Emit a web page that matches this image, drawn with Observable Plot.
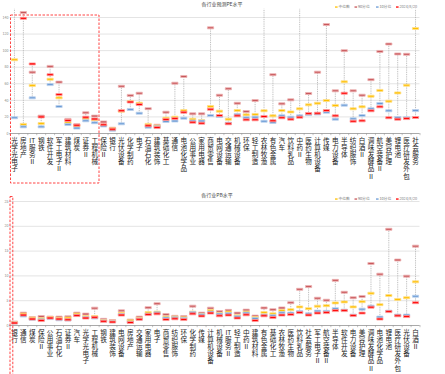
<!DOCTYPE html>
<html><head><meta charset="utf-8">
<script src="https://cdn.jsdelivr.net/npm/d3@7"></script>
<script src="https://cdn.jsdelivr.net/npm/@observablehq/plot@0.6"></script>
<style>
body{margin:0;background:#fff;}
#wrap{position:relative;width:445px;height:374px;overflow:hidden;}
#wrap svg{position:absolute;left:0;}
</style></head>
<body><div id="wrap"></div>
<script>
// ---------- Data: 各行业预测PE水平 ----------
const peCategories = ["光学光电子","房地产","IT服务Ⅱ","钢铁","软件开发","军工电子Ⅱ","建筑材料","煤炭","证券Ⅱ","工程机械","保险Ⅱ","银行","光伏设备","化学制药","电子","石油石化","建筑装饰","基础化工","通信","电池化学品","公用事业","家用电器","商贸零售","电网设备","交通运输","机械设备","环保","轻工制造","农林牧渔","有色金属","汽车","饮料乳品","中药Ⅱ","医药生物","计算机设备","传媒","电力设备","半导体","纺织服饰","白酒Ⅱ","调味发酵品Ⅱ","航空装备Ⅱ","美容护理","锂电池","医疗研发外包","社会服务"];
const peP90 = [220,146,74,21,81,62,17,10.5,25,21,14,6.4,57,46,48.6,30,10,25.7,60.7,68.8,23.7,23.7,127.5,46.2,54,36.5,26.5,39.8,200,71,35.8,40.6,180,48.3,74,131.5,51.5,100,51.5,46.2,65,99,108,96,95.6,170];
const peMedian = [89,11,58,12,65.5,43,13,9,18,16.5,10,5.6,27,38.6,36.5,11,9,18.5,19.7,27.7,17.3,15.7,32.6,27,17.3,27.7,22.5,23,27.4,21.3,27.7,26,29.8,34.6,36.5,39.8,33.8,62.4,29.8,32.2,45,52,39,49,58.3,126.7];
const peP10 = [19,8,43,8,59,32.6,11,6.5,15.3,13,9,4,11.7,29,24.5,7.6,8,14.5,15,18.5,15,15,21.7,20.5,12.5,23,19,19.7,14.8,13.3,21.3,19.7,21.3,23,23.5,25.7,17.3,34.2,17.7,21.7,29.8,36.2,27.4,19.3,19,27.7];
const peNow = [160,139,84,20,71,47,15.7,10,19.7,17.5,10.5,5.2,27.5,38,35,9.3,7.2,17,18,25.7,13.6,12.4,29.3,21.7,11.7,21.3,16.5,16.5,20.5,15.3,19,17.3,19.7,24,24.5,27.7,21.3,48.6,14.8,15.3,27.4,32.2,19,17.3,18,19.3];
const peTicks = [0,20,40,60,80,100,120,140];

// ---------- Data: 各行业PB水平 ----------
const pbCategories = ["银行","通信","煤炭","保险Ⅱ","公用事业","石油石化","证券Ⅱ","汽车","光学光电子","工程机械","钢铁","建筑装饰","电网设备","房地产","交通运输","家用电器","电子","商贸零售","纺织服饰","环保","化学制药","传媒","计算机设备","机械设备","IT服务Ⅱ","轻工制造","中药Ⅱ","建筑材料","有色金属","基础化工","农林牧渔","医药生物","饮料乳品","社会服务","军工电子Ⅱ","航空装备Ⅱ","半导体","软件开发","电力设备","美容护理","调味发酵品Ⅱ","电池化学品","锂电池","医疗研发外包","光伏设备","白酒Ⅱ"];
const pbP90 = [0.7,2.5,1.6,1.8,1.7,1.7,1.75,2.5,2.3,3.5,1.25,1.0,2.95,1.1,1.7,3.6,4.4,2.2,1.85,1.8,3.9,2.5,3.5,2.8,3.05,2.5,3.1,1.9,3.55,3.2,3.55,4.6,7.3,7.85,5.5,5.1,9.1,6.7,5.6,5.85,12.5,10.35,19.4,13.2,9.95,16];
const pbMedian = [0.6,2.3,1.5,1.35,1.6,1.45,1.5,2.3,1.8,1.8,1.0,0.85,2.45,0.95,1.45,2.6,2.7,1.7,1.7,1.55,2.7,2.25,3.0,2.45,2.7,1.95,2.7,1.6,2.6,2.35,3.0,3.2,3.75,3.4,3.9,4.0,4.55,4.75,3.75,4.8,6.5,4.2,6.05,5.25,5.6,8.8];
const pbP10 = [0.5,1.9,1.25,1.15,1.4,1.15,1.1,2.05,1.6,1.5,0.9,0.75,2.2,0.7,1.3,2.3,2.55,1.5,1.55,1.4,2.6,2.15,2.7,2.3,2.4,1.8,2.5,1.4,2.1,1.95,2.55,2.5,2.8,2.35,2.9,2.85,3.4,3.1,2.1,3.3,3.9,1.7,2.9,2.1,2.1,5.9];
const pbNow = [0.5,2.1,1.3,1.0,1.5,1.3,1.15,2.0,1.5,1.65,0.85,0.7,2.1,0.6,1.25,2.2,2.35,1.2,1.35,1.2,2.35,1.9,2.5,1.95,2.1,1.5,2.15,1.0,1.95,1.6,2.1,2.2,2.6,2.1,2.5,2.6,3.0,3.0,2.0,2.5,3.7,1.3,2.8,1.95,1.8,4.6];
const pbTicks = [0,5,10,15,20,25];

const seriesNames = ["中位数","90分位","10分位","2024/8/20"];
const titles = ["各行业预测PE水平","各行业PB水平"];

// ---------- Styles ----------
const FONT = "'Noto Sans CJK SC', sans-serif";
const C_MED = "#ffc000", C_MEDS = "#ffe08a";
const C_P90 = "#c9585c", C_P90S = "#eeb4b4";
const C_P10 = "#6a9bd6", C_P10S = "#bcd2ee";
const C_NOW = "#ff0000", C_NOWS = "#ff9c9c";
const W = 445, H = 187, ML = 9.5, MR = 25.5;

const bar = {draw(ctx){ ctx.rect(-3.1, -1.0, 6.2, 2.0); }};
const splitLabel = s => s.match(/[A-Za-z0-9]+|./gu).join("\n");

function makeChart(cats, p90, med, p10, now, ticks, domain, mt, mb) {
  const rows = cats.map((c, i) => {
    const vs = [p90[i], med[i], p10[i], now[i]];
    return {c, p90: p90[i], med: med[i], p10: p10[i], now: now[i], lo: Math.min(...vs), hi: Math.max(...vs)};
  });
  const step = (W - ML - MR) / cats.length;
  return Plot.plot({
    width: W, height: H,
    marginLeft: ML, marginRight: MR, marginTop: mt, marginBottom: mb,
    style: {fontFamily: FONT, background: "transparent", overflow: "visible"},
    x: {type: "band", domain: cats, padding: 0, label: null},
    y: {domain, ticks, label: null},
    marks: [
      Plot.gridY(ticks, {stroke: "#e4e4e4", strokeOpacity: 1, strokeWidth: 1}),
      Plot.axisY(ticks, {tickSize: 0, tickPadding: 1.5, fontSize: 3.6, fill: "#888", label: null}),
      Plot.ruleY([0], {stroke: "#9a9a9a", strokeWidth: 0.8}),
      Plot.ruleX(cats, {x: d => d, dx: -step / 2, y1: 0, y2: 0, insetBottom: -2.2, stroke: "#9a9a9a", strokeWidth: 0.6}),
      Plot.ruleX(cats.slice(-1), {x: d => d, dx: step / 2, y1: 0, y2: 0, insetBottom: -2.2, stroke: "#9a9a9a", strokeWidth: 0.6}),
      Plot.ruleX(rows, {x: "c", y1: "lo", y2: "hi", stroke: "#a6a6a6", strokeWidth: 0.8, strokeDasharray: "0.9,0.9", clip: true}),
      Plot.dot(rows, {x: "c", y: "p90", symbol: bar, fill: C_P90, stroke: C_P90S, strokeWidth: 0.8, clip: true}),
      Plot.dot(rows, {x: "c", y: "med", symbol: bar, fill: C_MED, stroke: C_MEDS, strokeWidth: 0.8, clip: true}),
      Plot.dot(rows, {x: "c", y: "p10", symbol: bar, fill: C_P10, stroke: C_P10S, strokeWidth: 0.8, clip: true}),
      Plot.dot(rows, {x: "c", y: "now", symbol: bar, fill: C_NOW, stroke: C_NOWS, strokeWidth: 0.8, clip: true}),
      Plot.axisX({tickSize: 0, tickPadding: 4, tickFormat: splitLabel, fontSize: 6.6, lineHeight: 1.09, fill: "#222", textAnchor: "middle", label: null})
    ]
  });
}

const wrap = document.getElementById("wrap");
const c1 = makeChart(peCategories, peP90, peMedian, peP10, peNow, peTicks, [0, 150], 8.7, 54);
c1.style.top = "0px";
wrap.appendChild(c1);
const c2 = makeChart(pbCategories, pbP90, pbMedian, pbP10, pbNow, pbTicks, [0, 25], 14, 49);
c2.style.top = "187px";
wrap.appendChild(c2);

// ---------- Overlay: titles, legends, highlight boxes ----------
const ov = d3.select(wrap).append("svg").attr("width", W).attr("height", 374)
  .style("top", "0px").style("pointer-events", "none").style("font-family", FONT);

[[titles[0], 222, 6], [titles[1], 217, 197]].forEach(([t, x, y]) => {
  ov.append("text").attr("x", x).attr("y", y).attr("text-anchor", "middle")
    .attr("font-size", 5).attr("fill", "#444").text(t);
});

const legendColors = [C_MED, C_P90, C_P10, C_NOW];
const legendX = [335, 354.5, 376, 396];
[8, 200].forEach(ly => {
  seriesNames.forEach((n, i) => {
    ov.append("rect").attr("x", legendX[i]).attr("y", ly - 1.6).attr("width", 2.6).attr("height", 1.3)
      .attr("fill", legendColors[i]);
    ov.append("text").attr("x", legendX[i] + 3.4).attr("y", ly).attr("font-size", 3.8)
      .attr("fill", "#777").text(n);
  });
});

ov.append("rect").attr("x", 10.5).attr("y", 15).attr("width", 88.5).attr("height", 168)
  .attr("fill", "none").attr("stroke", "#ff3030").attr("stroke-width", 0.9).attr("stroke-dasharray", "2.5,1.5");
ov.append("rect").attr("x", 10).attr("y", 196.5).attr("width", 2.8).attr("height", 180)
  .attr("fill", "none").attr("stroke", "#ff3030").attr("stroke-width", 0.9).attr("stroke-dasharray", "2.5,1.5");
</script>
</body></html>
